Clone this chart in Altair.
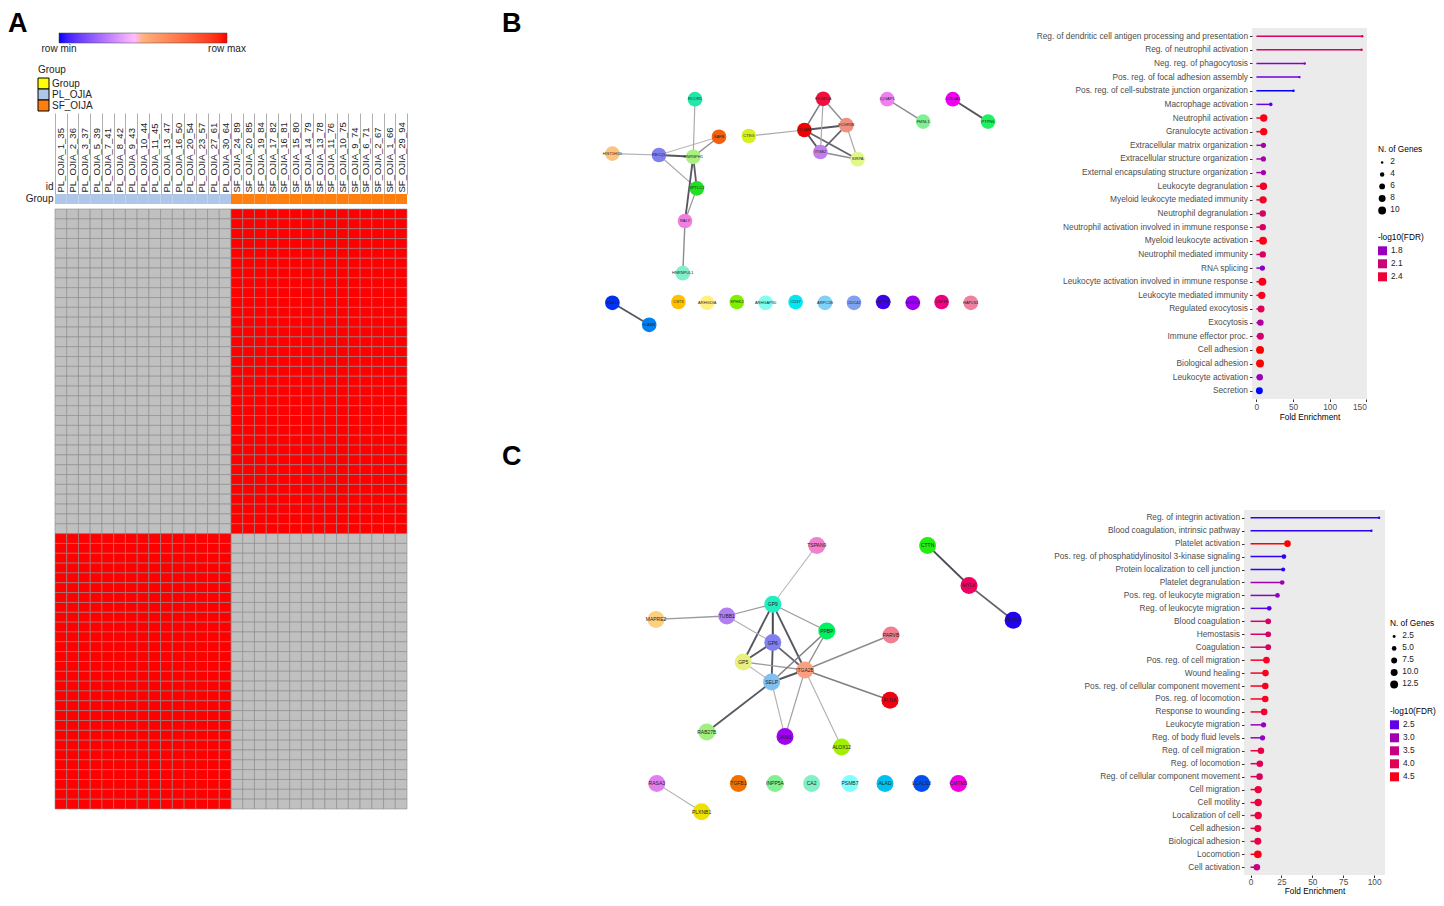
import altair as alt
import pandas as pd

FONT = "Liberation Sans"

# ---------------- Panel A : heatmap ----------------
pl_ids = ["PL_OJIA_1_35", "PL_OJIA_2_36", "PL_OJIA_3_37", "PL_OJIA_5_39", "PL_OJIA_7_41",
          "PL_OJIA_8_42", "PL_OJIA_9_43", "PL_OJIA_10_44", "PL_OJIA_11_45", "PL_OJIA_13_47",
          "PL_OJIA_16_50", "PL_OJIA_20_54", "PL_OJIA_23_57", "PL_OJIA_27_61", "PL_OJIA_30_64"]
sf_ids = ["SF_OJIA_24_89", "SF_OJIA_20_85", "SF_OJIA_19_84", "SF_OJIA_17_82", "SF_OJIA_16_81",
          "SF_OJIA_15_80", "SF_OJIA_14_79", "SF_OJIA_13_78", "SF_OJIA_11_76", "SF_OJIA_10_75",
          "SF_OJIA_9_74", "SF_OJIA_6_71", "SF_OJIA_2_67", "SF_OJIA_1_66", "SF_OJIA_29_94"]
sample_ids = pl_ids + sf_ids
sample_groups = ["PL_OJIA"] * len(pl_ids) + ["SF_OIJA"] * len(sf_ids)
group_domain = ["Group", "PL_OJIA", "SF_OIJA"]
group_colors = ["#ffff00", "#aec7e8", "#ff7f0e"]
# group in which each protein (row, top to bottom) was detected
row_detected_in = ["SF_OIJA"] * 33 + ["PL_OJIA"] * 28
scale_labels = ["row min", "row max"]

# ---------------- Panel B : network ----------------
B_node_names = ["HIST1H1D", "RECQL", "HNRNPH1", "SAFB", "RCOR1", "SPTLC2", "RALY", "HNRNPUL1",
                "CTSG", "FCGR1A", "ITGAM", "FCGR3B", "ITGB2", "SIRPA", "IQGAP1", "FMNL1",
                "COL6A1", "PTPN6", "GNA13", "ICAM3", "CST3", "ARHGDIA", "SPHK2", "ARHGAP30",
                "CD37", "ARPC1B", "CDC42", "LAPTM5", "MYO1G", "CSF3R", "HAPLN1"]
B_node_x = [3.1, 14.75, 23.3, 29.75, 23.75, 24.2, 21.25, 20.7,
            37.2, 55.8, 51.1, 61.6, 55.1, 64.4, 71.8, 80.8,
            88.2, 97.0, 3.1, 12.3, 19.6, 26.8, 34.2, 41.4,
            48.9, 56.25, 63.5, 70.8, 78.2, 85.4, 92.7]
B_node_y = [16.9, 17.25, 17.7, 12.7, 3.3, 25.6, 33.75, 46.8,
            12.5, 3.2, 11.0, 9.8, 16.5, 18.3, 3.3, 8.9,
            3.3, 8.9, 54.2, 59.7, 54.0, 54.2, 54.0, 54.2,
            54.0, 54.2, 54.2, 54.0, 54.2, 54.0, 54.2]
B_node_colors = ["#fcc47f", "#8080f0", "#a8f080", "#f06010", "#20e8a8", "#20e020", "#f080e0", "#80f0c8",
                 "#d8f020", "#f01040", "#f00000", "#f09080", "#c080f0", "#e0f888", "#f080f0", "#80f098",
                 "#f000f0", "#20f060", "#0030f0", "#0080f0", "#ffc000", "#fff080", "#80f000", "#80fff0",
                 "#00e8f0", "#80d0f8", "#80a0f0", "#4000f0", "#a000f0", "#f00080", "#f080a0"]
B_edge_src = ["HIST1H1D", "RECQL", "RECQL", "RECQL", "HNRNPH1", "HNRNPH1", "HNRNPH1", "HNRNPH1",
              "SPTLC2", "RALY", "CTSG", "ITGAM", "ITGAM", "ITGAM", "ITGAM", "FCGR1A", "FCGR1A",
              "ITGB2", "ITGB2", "FCGR3B", "IQGAP1", "COL6A1", "GNA13"]
B_edge_dst = ["RECQL", "HNRNPH1", "SAFB", "SPTLC2", "SAFB", "RCOR1", "SPTLC2", "RALY",
              "RALY", "HNRNPUL1", "ITGAM", "FCGR1A", "FCGR3B", "ITGB2", "SIRPA", "FCGR3B", "ITGB2",
              "FCGR3B", "SIRPA", "SIRPA", "FMNL1", "PTPN6", "ICAM3"]
B_edge_w = [0.25, 0.9, 0.2, 0.3, 0.5, 0.3, 0.85, 0.9,
            0.4, 0.5, 0.3, 0.6, 0.9, 0.9, 0.8, 0.5, 0.3,
            0.8, 0.5, 0.3, 0.5, 0.9, 0.9]

# ---------------- Panel B : enrichment ----------------
B_terms = ["Reg. of dendritic cell antigen processing and presentation", "Reg. of neutrophil activation",
           "Neg. reg. of phagocytosis", "Pos. reg. of focal adhesion assembly",
           "Pos. reg. of cell-substrate junction organization", "Macrophage activation",
           "Neutrophil activation", "Granulocyte activation", "Extracellular matrix organization",
           "Extracellular structure organization", "External encapsulating structure organization",
           "Leukocyte degranulation", "Myeloid leukocyte mediated immunity", "Neutrophil degranulation",
           "Neutrophil activation involved in immune response", "Myeloid leukocyte activation",
           "Neutrophil mediated immunity", "RNA splicing",
           "Leukocyte activation involved in immune response", "Leukocyte mediated immunity",
           "Regulated exocytosis", "Exocytosis", "Immune effector proc.", "Cell adhesion",
           "Biological adhesion", "Leukocyte activation", "Secretion"]
B_fold = [144.5, 143.6, 66.0, 58.8, 50.6, 19.6, 10.0, 10.0, 9.6, 9.6, 9.6, 9.6, 9.1, 8.7, 8.7,
          9.1, 8.7, 8.2, 8.2, 7.3, 6.4, 5.5, 5.5, 5.0, 5.0, 4.6, 4.1]
B_genes = [2, 2, 2, 2, 2, 3, 9, 9, 5, 5, 5, 9, 9, 7, 7, 10, 7, 5, 10, 9, 8, 7, 8, 10, 10, 7, 8]
B_fdr = [2.2, 2.2, 1.72, 1.65, 1.5, 1.62, 2.5, 2.5, 1.85, 1.85, 1.85, 2.45, 2.45, 2.2, 2.2,
         2.5, 2.2, 1.72, 2.5, 2.48, 2.25, 1.9, 2.15, 2.55, 2.55, 1.8, 1.5]

# ---------------- Panel C : network ----------------
C_node_names = ["TSPAN9", "CTTN", "MYLK", "ITGB3", "GP9", "TUBB1", "MAPRE2", "PPBP", "PARVB",
                "GP6", "GP5", "ITGA2B", "SELP", "FLNA", "RAB27B", "JAM3", "ALOX12", "RASA3",
                "PLXNB1", "TGFB1", "INPP5A", "CA2", "PSMB7", "ALAD", "LGALS3", "CMTM5"]
C_node_x = [54.2, 81.9, 92.25, 103.3, 43.2, 31.7, 14.0, 56.7, 72.75,
            43.2, 35.8, 51.25, 42.9, 72.5, 26.7, 46.25, 60.4, 14.2,
            25.4, 34.6, 43.75, 52.9, 62.5, 71.25, 80.4, 89.6]
C_node_y = [3.6, 3.6, 13.6, 22.3, 18.3, 21.25, 22.1, 25.0, 26.0,
            27.9, 32.75, 34.75, 37.75, 42.3, 50.25, 51.4, 54.0, 63.1,
            70.2, 63.1, 63.1, 63.1, 63.1, 63.1, 63.1, 63.1]
C_node_colors = ["#f080d0", "#20f010", "#f00060", "#2000f0", "#20f0c0", "#b080f0", "#fdd080", "#00f060",
                 "#f08090", "#8080f0", "#e8f080", "#f8a080", "#80c0f0", "#f00010", "#a0f080", "#a000f0",
                 "#a0f000", "#e080f0", "#f0e000", "#f07000", "#80f090", "#80f0c8", "#80ffff", "#00c0f0",
                 "#0050f0", "#f000e0"]
C_edge_src = ["TSPAN9", "CTTN", "MYLK", "GP9", "GP9", "GP9", "GP9", "GP9", "MAPRE2", "TUBB1",
              "GP6", "GP6", "GP6", "GP5", "GP5", "SELP", "SELP", "ITGA2B", "ITGA2B", "ITGA2B",
              "SELP", "SELP", "ITGA2B", "ITGA2B", "RASA3"]
C_edge_dst = ["GP9", "MYLK", "ITGB3", "TUBB1", "GP6", "GP5", "ITGA2B", "PPBP", "TUBB1", "GP6",
              "GP5", "SELP", "ITGA2B", "ITGA2B", "SELP", "ITGA2B", "PPBP", "PPBP", "PARVB", "FLNA",
              "RAB27B", "JAM3", "JAM3", "ALOX12", "PLXNB1"]
C_edge_w = [0.2, 1.0, 0.8, 0.4, 1.0, 0.9, 0.9, 0.4, 0.4, 0.25,
            0.9, 0.9, 0.8, 0.4, 0.2, 0.9, 0.6, 0.5, 0.5, 0.6,
            0.9, 0.25, 0.35, 0.25, 0.25]

# ---------------- Panel C : enrichment ----------------
C_terms = ["Reg. of integrin activation", "Blood coagulation, intrinsic pathway", "Platelet activation",
           "Pos. reg. of phosphatidylinositol 3-kinase signaling", "Protein localization to cell junction",
           "Platelet degranulation", "Pos. reg. of leukocyte migration", "Reg. of leukocyte migration",
           "Blood coagulation", "Hemostasis", "Coagulation", "Pos. reg. of cell migration",
           "Wound healing", "Pos. reg. of cellular component movement", "Pos. reg. of locomotion",
           "Response to wounding", "Leukocyte migration", "Reg. of body fluid levels",
           "Reg. of cell migration", "Reg. of locomotion", "Reg. of cellular component movement",
           "Cell migration", "Cell motility", "Localization of cell", "Cell adhesion",
           "Biological adhesion", "Locomotion", "Cell activation"]
C_fold = [104.0, 97.8, 29.9, 27.0, 26.4, 25.6, 21.8, 15.1, 14.3, 14.3, 14.3, 12.9, 12.1, 11.9,
          11.9, 11.0, 10.5, 9.7, 8.4, 7.5, 7.3, 6.2, 6.2, 6.2, 5.9, 5.9, 5.9, 5.1]
C_genes = [2, 2, 9, 5, 4, 5, 5, 5, 7, 7, 7, 9, 9, 9, 9, 9, 6, 6, 9, 9, 9, 11, 11, 11, 10, 10, 12, 9]
C_fdr = [2.3, 2.3, 4.6, 2.3, 2.3, 3.0, 2.8, 2.45, 3.8, 3.8, 3.8, 4.4, 4.4, 4.45, 4.45, 4.35, 2.9,
         2.85, 4.1, 3.95, 3.9, 4.2, 4.2, 4.2, 4.1, 4.1, 4.5, 3.5]


# ======================================================================
def text_label(letter, dx, dy):
    return alt.Chart(pd.DataFrame({"t": [letter]})).mark_text(
        font=FONT, fontSize=27, fontWeight="bold", align="left", baseline="top", color="black"
    ).encode(text="t:N", x=alt.value(dx), y=alt.value(dy))


def small_text(txt, dx, dy, align="center"):
    return alt.Chart(pd.DataFrame({"t": [txt]})).mark_text(
        font=FONT, fontSize=10, align=align, baseline="middle", color="#222"
    ).encode(text="t:N", x=alt.value(dx), y=alt.value(dy))


# ---- Panel A
# Group key (legend) drawn as its own small layer
key_df = pd.DataFrame({"g": group_domain, "c": group_colors})
key_y = alt.Y("g:N", sort=group_domain, axis=None,
              scale=alt.Scale(type="point", range=[55.5, 77.5], padding=0))
key_boxes = alt.Chart(key_df).mark_square(size=121, opacity=1, stroke="black", strokeWidth=1).encode(
    x=alt.value(-11.5), y=key_y, fill=alt.Fill("c:N", scale=None))
key_text = alt.Chart(key_df).mark_text(font=FONT, fontSize=10, align="left", baseline="middle",
                                       color="#222").encode(x=alt.value(-3), y=key_y, text="g:N")

spacerA = alt.layer(
    text_label("A", -47, -17),
    small_text(scale_labels[0], 4, 21),
    small_text(scale_labels[1], 172, 21),
    small_text("Group", -17, 42, align="left"),
    key_boxes, key_text,
).properties(width=352, height=161)

group_df = pd.DataFrame({"id": sample_ids, "group": sample_groups, "row": ["Group"] * len(sample_ids)})
xcols = alt.Scale(paddingInner=0, paddingOuter=0)
groupbar = alt.Chart(group_df).mark_rect().encode(
    x=alt.X("id:N", sort=sample_ids, scale=xcols,
            axis=alt.Axis(orient="top", title="id", labelAngle=270, labelAlign="left",
                          labelBaseline="middle", labelFont=FONT, labelFontSize=9.5, labelColor="#222",
                          tickBand="extent", tickSize=81, tickColor="#b0b0b0", tickWidth=1,
                          labelPadding=-79, domain=False, labelOverlap=False,
                          titleAngle=0, titleX=-2, titleY=-3, titleAlign="right",
                          titleBaseline="bottom", titleFontWeight="normal", titleFontSize=10,
                          titleFont=FONT, titleColor="#222")),
    y=alt.Y("row:N", axis=alt.Axis(title=None, ticks=False, domain=False, labelFontSize=10,
                                   labelPadding=2, labelFont=FONT, labelColor="#222")),
    color=alt.Color("group:N", scale=alt.Scale(domain=group_domain, range=group_colors), legend=None),
).properties(width=352, height=10)

heat_rows = []
for i, g in enumerate(row_detected_in):
    for sid, sg in zip(sample_ids, sample_groups):
        heat_rows.append({"row": i, "id": sid, "det": int(sg == g), "v": 1.0})
heat_df = pd.DataFrame(heat_rows)
heat_base = alt.Chart(heat_df).encode(
    x=alt.X("id:N", sort=sample_ids, axis=None, scale=xcols),
    y=alt.Y("row:O", axis=None, scale=alt.Scale(paddingInner=0, paddingOuter=0)),
)
absent = heat_base.transform_filter("datum.det == 0").mark_rect(
    fill="#c0c0c0", stroke="#8a8a8a", strokeWidth=0.6)
present = heat_base.transform_filter("datum.det == 1").mark_rect(
    stroke="#8a8a8a", strokeWidth=0.6).encode(
    color=alt.Color("v:Q", scale=alt.Scale(domain=[0, 0.5, 1], range=["#0000ff", "#ffffff", "#ff0000"]),
                    legend=alt.Legend(title=None, orient="none", legendX=4, legendY=-176,
                                      direction="horizontal", gradientLength=168, gradientThickness=10,
                                      values=[0, 1], labelExpr="''", labelFontSize=1,
                                      gradientStrokeColor="#444", gradientStrokeWidth=0.5, padding=0))
)
heatmap = alt.layer(absent, present).properties(width=352, height=600)

colA = alt.vconcat(spacerA, groupbar, heatmap, spacing=5, bounds="flush").resolve_scale(
    color="independent", fill="independent", x="independent", y="independent")


# ---- Networks
def network(names, xs, ys, cols, src, dst, w, xdom, ydom, width, height, node_size, fsize,
            letter, lx, ly):
    pos = {n: (x, y) for n, x, y in zip(names, xs, ys)}
    ndf = pd.DataFrame({"name": names, "x": xs, "y": ys, "c": cols})
    edf = pd.DataFrame({"x1": [pos[s][0] for s in src], "y1": [pos[s][1] for s in src],
                        "x2": [pos[d][0] for d in dst], "y2": [pos[d][1] for d in dst], "w": w})
    xsc = alt.Scale(domain=xdom, nice=False, zero=False)
    ysc = alt.Scale(domain=ydom, nice=False, zero=False, reverse=True)
    edges = alt.Chart(edf).mark_rule().encode(
        x=alt.X("x1:Q", scale=xsc, axis=None), y=alt.Y("y1:Q", scale=ysc, axis=None),
        x2="x2:Q", y2="y2:Q",
        color=alt.Color("w:Q", scale=alt.Scale(domain=[0, 1], range=["#d4d4d4", "#4a4a55"]), legend=None),
        strokeWidth=alt.StrokeWidth("w:Q", scale=alt.Scale(domain=[0, 1], range=[0.8, 2.0]), legend=None),
    )
    nodes = alt.Chart(ndf).mark_circle(size=node_size, opacity=1).encode(
        x=alt.X("x:Q", scale=xsc, axis=None), y=alt.Y("y:Q", scale=ysc, axis=None),
        fill=alt.Fill("c:N", scale=None))
    labels = alt.Chart(ndf).mark_text(fontSize=fsize, font=FONT, color="#222").encode(
        x=alt.X("x:Q", scale=xsc, axis=None), y=alt.Y("y:Q", scale=ysc, axis=None), text="name:N")
    return alt.layer(edges, nodes, labels, text_label(letter, lx, ly)).properties(
        width=width, height=height)


netB = network(B_node_names, B_node_x, B_node_y, B_node_colors, B_edge_src, B_edge_dst, B_edge_w,
               [-26.25, 160.5], [-14.5, 78.25], 747, 371, 215, 4, "B", 7, -17)
netC = network(C_node_names, C_node_x, C_node_y, C_node_colors, C_edge_src, C_edge_dst, C_edge_w,
               [-26.25, 158.5], [-5.25, 86], 739, 365, 290, 5, "C", 7, -66)


# ---- Lollipops
def lollipop(terms, fe, genes, fdr, xdom, xvals, width, height, size_dom, size_vals, size_fmt,
             col_dom, col_vals, lx, ly_size, ly_col, lab_pad, title_pad):
    df = pd.DataFrame({"term": terms, "fe": fe, "n": genes, "fdr": fdr})
    yenc = alt.Y("term:N", sort=terms, scale=alt.Scale(type="point", padding=0.6),
                 axis=alt.Axis(title=None, labelFontSize=8.3, labelFont=FONT, labelColor="#4d4d4d",
                               tickSize=2.5, tickColor="#333333", labelPadding=2, domain=False,
                               grid=False, labelLimit=400))
    xsc = alt.Scale(domain=xdom, nice=False, zero=False)
    xax = alt.Axis(values=xvals, title="Fold Enrichment", labelFontSize=8.3, labelFont=FONT,
                   labelColor="#4d4d4d", tickSize=2.5, tickColor="#333333", domain=False, grid=False,
                   titleFontSize=8.3, titleFont=FONT, titleFontWeight="normal", titleColor="black",
                   titlePadding=title_pad, labelPadding=lab_pad)
    cenc = alt.Color("fdr:Q",
                     scale=alt.Scale(domain=col_dom, range=["#0000ff", "#ff0000"], interpolate="lab"),
                     legend=alt.Legend(title="-log10(FDR)", type="symbol", values=col_vals, format=".1f",
                                       symbolType="square", symbolSize=81, symbolStrokeWidth=0,
                                       symbolOpacity=1,
                                       orient="none", legendX=lx, legendY=ly_col, titleFontSize=8.3,
                                       titleFont=FONT, titleFontWeight="normal", titleColor="black",
                                       labelFontSize=8.3, labelFont=FONT, labelColor="#222",
                                       rowPadding=3, titlePadding=5, labelOffset=4, padding=0))
    base = alt.Chart(df).transform_calculate(zero="0")
    pts = base.mark_circle(opacity=1).encode(
        x=alt.X("fe:Q", scale=xsc, axis=xax), y=yenc, color=cenc,
        size=alt.Size("n:Q", scale=alt.Scale(domain=size_dom, range=[6, 62], zero=False),
                      legend=alt.Legend(title="N. of Genes", values=size_vals, format=size_fmt,
                                        symbolType="circle", symbolFillColor="black",
                                        symbolStrokeColor="black", symbolStrokeWidth=0,
                                        orient="none", legendX=lx, legendY=ly_size, titleFontSize=8.3,
                                        titleFont=FONT, titleFontWeight="normal", titleColor="black",
                                        labelFontSize=8.3, labelFont=FONT, labelColor="#222",
                                        rowPadding=3, titlePadding=5, labelOffset=4, padding=0)),
    )
    rule = base.mark_rule(strokeWidth=1.5).encode(
        x=alt.X("zero:Q", scale=xsc, axis=xax), x2="fe:Q", y=yenc, color=cenc)
    return alt.layer(pts, rule).properties(
        width=width, height=height, view=alt.ViewBackground(fill="#ebebeb", strokeWidth=0))


lolB = lollipop(B_terms, B_fold, B_genes, B_fdr, [-6, 151], [0, 50, 100, 150], 115, 371,
                [2, 10], [2, 4, 6, 8, 10], "d", [1.5, 2.55], [1.8, 2.1, 2.4], 126, 117, 205, 1, 2)
lolC = lollipop(C_terms, C_fold, C_genes, C_fdr, [-5.3, 108.8], [0, 25, 50, 75, 100], 141, 365,
                [2, 12.5], [2.5, 5.0, 7.5, 10.0, 12.5], ".1f", [2.25, 4.6], [2.5, 3.0, 3.5, 4.0, 4.5],
                146, 109, 197, 0, 1)

res = dict(color="independent", fill="independent", stroke="independent", size="independent",
           strokeWidth="independent", x="independent", y="independent")
rowB = alt.hconcat(netB, lolB, spacing=10, bounds="flush").resolve_scale(**res)
rowC = alt.hconcat(netC, lolC, spacing=10, bounds="flush").resolve_scale(**res)
# nested flush groups count as zero-size in the layout, so the spacing carries the full offset
right = alt.vconcat(rowB, rowC, spacing=482, bounds="flush").resolve_scale(**res)

chart = alt.hconcat(colA, right, spacing=440, bounds="flush").resolve_scale(**res).properties(
    padding={"top": 2, "left": 0, "right": 0, "bottom": 0}
).configure(font=FONT).configure_view(strokeWidth=0)

chart.save("out.html", embed_options={"renderer": "svg", "actions": False})
